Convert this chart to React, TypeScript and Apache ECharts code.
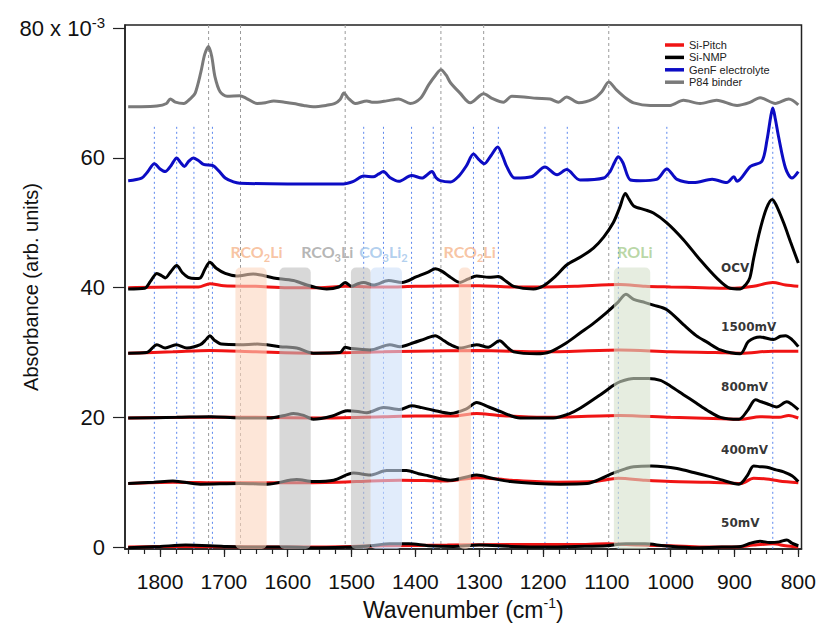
import React, { useEffect, useRef } from 'react';
import * as echarts from 'echarts';

const FONT = '"Liberation Sans", Arial, sans-serif';
const BOLD_FONT = '"DejaVu Sans", sans-serif';
const LABEL_FONT = 'Lato, "Open Sans", sans-serif';

// ---------- axes ----------
const xMajorTicks = [800, 900, 1000, 1100, 1200, 1300, 1400, 1500, 1600, 1700, 1800];
const yTicks = [0, 20, 40, 60, 80];
const xMinorTicks: number[] = [];
for (let v = 800; v <= 1850; v += 25) xMinorTicks.push(v);

// ---------- spectra (wavenumber, absorbance x10^-3) ----------
const p84Binder: [number, number][] = [
  [1850, 67.9], [1830, 67.9], [1805, 68.0], [1790, 68.4], [1784, 69.1], [1776, 68.6], [1763, 68.4],
  [1752, 69.2], [1745, 70.0], [1736, 73.3], [1730, 76.0], [1724, 77.2], [1719, 75.6], [1714, 72.5],
  [1706, 70.2], [1695, 69.5], [1675, 69.6], [1665, 69.2], [1648, 68.4], [1635, 68.5], [1622, 68.8],
  [1605, 68.6], [1591, 68.4], [1575, 68.1], [1560, 67.9], [1540, 68.1], [1526, 68.4], [1518, 69.0],
  [1512, 70.0], [1505, 69.2], [1494, 68.4], [1476, 68.8], [1468, 68.6], [1460, 68.6], [1445, 68.8],
  [1426, 69.1], [1408, 68.4], [1392, 69.2], [1379, 71.3], [1368, 72.8], [1360, 73.6], [1352, 72.8],
  [1345, 71.6], [1330, 70.0], [1314, 68.5], [1293, 69.9], [1280, 69.2], [1262, 68.6], [1249, 69.5],
  [1230, 69.4], [1210, 69.2], [1189, 69.1], [1176, 68.6], [1163, 69.4], [1144, 68.5], [1121, 69.1],
  [1108, 70.2], [1097, 71.7], [1085, 70.5], [1070, 69.2], [1058, 68.5], [1032, 68.1], [1001, 68.1],
  [980, 68.9], [954, 68.4], [928, 68.9], [896, 68.1], [875, 68.6], [860, 69.3], [836, 68.4],
  [815, 69.1], [800, 68.2],
];

const genfElectrolyte: [number, number][] = [
  [1850, 56.5], [1829, 56.9], [1820, 57.8], [1809, 59.1], [1800, 58.3], [1792, 57.9], [1783, 58.8],
  [1774, 60.0], [1768, 59.3], [1762, 58.7], [1755, 59.5], [1748, 60.0], [1740, 59.6], [1732, 59.0],
  [1717, 58.8], [1708, 58.0], [1698, 56.9], [1685, 56.3], [1675, 56.1], [1600, 56.0], [1513, 56.0],
  [1497, 56.4], [1481, 57.2], [1466, 57.1], [1458, 57.5], [1450, 57.9], [1440, 57.0], [1426, 56.4],
  [1406, 57.3], [1390, 56.9], [1374, 57.9], [1368, 57.0], [1361, 56.5], [1345, 56.3], [1332, 57.2],
  [1320, 58.8], [1309, 60.6], [1300, 59.7], [1292, 59.1], [1282, 60.3], [1271, 61.7], [1263, 60.2],
  [1257, 58.7], [1244, 56.9], [1218, 57.1], [1197, 58.6], [1178, 57.4], [1163, 58.2], [1142, 56.6],
  [1105, 56.9], [1095, 57.9], [1088, 59.3], [1082, 60.2], [1075, 59.3], [1063, 56.6], [1048, 56.5],
  [1022, 56.7], [1006, 58.3], [990, 56.7], [964, 56.2], [935, 56.7], [912, 56.2], [901, 57.1],
  [896, 56.4], [875, 58.7], [857, 59.5], [849, 62.8], [843, 66.5], [840, 67.7], [836, 66.0],
  [831, 63.3], [820, 58.4], [810, 56.9], [800, 57.9],
];

const nmpOCV: [number, number][] = [
  [1850, 39.8], [1824, 39.9], [1815, 41.0], [1805, 42.2], [1797, 41.8], [1792, 41.5], [1783, 42.5],
  [1774, 43.4], [1765, 42.3], [1756, 41.6], [1745, 41.4], [1737, 41.5], [1730, 42.8], [1722, 43.9],
  [1712, 43.0], [1698, 42.2], [1680, 41.8], [1654, 42.1], [1622, 41.5], [1591, 41.1], [1570, 40.4],
  [1555, 40.0], [1539, 39.8], [1520, 40.1], [1510, 40.8], [1500, 40.2], [1490, 40.6], [1481, 40.8],
  [1466, 40.4], [1442, 41.1], [1421, 40.8], [1398, 41.7], [1380, 42.4], [1369, 42.9], [1358, 42.5],
  [1345, 41.6], [1330, 40.8], [1318, 41.3], [1304, 41.8], [1285, 41.6], [1270, 41.7], [1258, 41.0],
  [1246, 40.2], [1215, 39.8], [1199, 40.3], [1180, 41.8], [1163, 43.5], [1140, 44.8], [1121, 46.1],
  [1105, 47.8], [1090, 50.0], [1080, 52.3], [1071, 54.5], [1065, 53.6], [1058, 52.6], [1040, 52.0],
  [1027, 51.5], [1006, 50.0], [980, 47.4], [954, 44.3], [928, 41.5], [907, 39.9], [891, 39.8],
  [882, 40.5], [876, 41.5], [870, 44.5], [860, 48.9], [850, 52.2], [841, 53.6], [835, 52.8],
  [823, 50.0], [812, 47.0], [800, 43.8],
];

const nmp1500: [number, number][] = [
  [1850, 29.9], [1821, 30.0], [1805, 31.2], [1792, 30.7], [1775, 31.2], [1758, 30.7], [1737, 31.2],
  [1728, 32.0], [1722, 32.6], [1715, 31.9], [1704, 31.3], [1675, 31.2], [1648, 31.3], [1612, 30.9],
  [1586, 30.7], [1560, 29.9], [1518, 30.0], [1510, 30.8], [1500, 30.6], [1471, 30.4], [1440, 31.2],
  [1424, 30.9], [1403, 31.5], [1385, 32.1], [1369, 32.6], [1355, 31.8], [1345, 31.2], [1330, 30.7],
  [1304, 31.2], [1286, 30.8], [1268, 31.8], [1257, 30.9], [1246, 30.1], [1210, 29.8], [1189, 30.1],
  [1163, 31.5], [1142, 33.0], [1121, 34.5], [1100, 36.2], [1084, 37.6], [1070, 39.0], [1058, 38.2],
  [1040, 37.7], [1027, 37.3], [1006, 36.6], [980, 34.3], [960, 32.6], [943, 31.6], [922, 30.4],
  [891, 29.8], [878, 31.7], [860, 32.4], [839, 32.0], [828, 32.5], [820, 32.6], [810, 32.0],
  [800, 30.9],
];

const nmp800: [number, number][] = [
  [1850, 19.9], [1774, 20.0], [1720, 20.1], [1675, 19.9], [1628, 19.9], [1605, 20.3], [1591, 20.6],
  [1575, 20.3], [1560, 19.7], [1530, 20.2], [1507, 21.0], [1490, 20.9], [1476, 20.7], [1450, 21.5],
  [1424, 21.2], [1406, 21.8], [1390, 21.5], [1372, 21.1], [1345, 20.6], [1320, 21.3], [1304, 22.3],
  [1285, 21.6], [1267, 20.9], [1236, 19.9], [1184, 19.9], [1160, 20.5], [1142, 21.4], [1110, 23.5],
  [1090, 24.9], [1079, 25.5], [1058, 26.0], [1035, 26.0], [1016, 25.7], [1000, 24.8], [980, 23.5],
  [960, 22.2], [943, 21.1], [922, 20.0], [893, 19.7], [880, 21.0], [867, 22.7], [858, 22.4],
  [849, 22.1], [834, 21.6], [818, 22.4], [810, 22.0], [800, 21.2],
];

const nmp400: [number, number][] = [
  [1850, 9.8], [1810, 10.0], [1780, 10.2], [1737, 9.7], [1675, 9.8], [1632, 9.7], [1586, 10.4],
  [1560, 10.1], [1528, 10.3], [1497, 11.4], [1471, 11.1], [1445, 11.8], [1424, 11.8], [1414, 11.8],
  [1395, 11.3], [1380, 11.0], [1345, 10.3], [1320, 10.8], [1304, 11.1], [1280, 10.6], [1251, 10.1],
  [1210, 9.8], [1173, 9.7], [1131, 9.8], [1110, 10.5], [1090, 11.4], [1070, 12.1], [1058, 12.4],
  [1030, 12.5], [1011, 12.4], [990, 12.1], [964, 11.5], [940, 10.9], [922, 10.4], [893, 9.7],
  [880, 11.0], [870, 12.5], [860, 12.4], [849, 12.3], [835, 11.9], [823, 11.6], [810, 11.0],
  [800, 10.1],
];

const nmp50: [number, number][] = [
  [1850, -0.1], [1800, 0.1], [1760, 0.3], [1700, 0.1], [1650, 0.0], [1600, 0.0], [1550, -0.1],
  [1500, 0.0], [1470, 0.2], [1440, 0.5], [1410, 0.5], [1380, 0.2], [1340, 0.1], [1300, 0.3],
  [1250, 0.1], [1200, 0.0], [1150, 0.1], [1100, 0.2], [1070, 0.5], [1040, 0.5], [1010, 0.2],
  [960, -0.1], [920, 0.0], [890, 0.1], [875, 0.6], [860, 0.9], [845, 0.7], [830, 0.8],
  [818, 1.1], [810, 0.6], [800, 0.2],
];

const pitchOCV: [number, number][] = [
  [1850, 40.0], [1780, 40.1], [1740, 40.1], [1722, 40.6], [1700, 40.3], [1650, 40.2], [1600, 40.0],
  [1550, 40.0], [1510, 40.2], [1450, 40.1], [1400, 40.2], [1330, 40.3], [1300, 40.3], [1250, 40.1],
  [1200, 40.1], [1150, 40.2], [1080, 40.5], [1040, 40.2], [1000, 40.1], [950, 40.0], [900, 39.9],
  [870, 40.2], [840, 40.8], [820, 40.4], [800, 40.2],
];
const pitch1500: [number, number][] = [
  [1850, 29.9], [1780, 30.1], [1722, 30.3], [1650, 30.1], [1560, 29.9], [1500, 30.0], [1450, 30.1],
  [1400, 30.2], [1300, 30.3], [1200, 30.1], [1080, 30.4], [1000, 30.1], [930, 30.0], [890, 29.9],
  [840, 30.2], [800, 30.2],
];
const pitch800: [number, number][] = [
  [1850, 19.9], [1750, 20.0], [1650, 20.0], [1550, 19.9], [1450, 20.1], [1400, 20.2], [1340, 20.2],
  [1304, 20.6], [1270, 20.3], [1200, 20.0], [1080, 20.3], [1000, 20.0], [920, 19.8], [890, 19.7],
  [860, 20.1], [830, 20.0], [815, 20.3], [800, 19.9],
];
const pitch400: [number, number][] = [
  [1850, 9.8], [1780, 10.0], [1700, 9.9], [1600, 9.9], [1520, 10.0], [1470, 10.2], [1424, 10.3],
  [1350, 10.2], [1304, 10.7], [1250, 10.3], [1180, 10.0], [1120, 10.1], [1082, 10.6], [1040, 10.3],
  [1000, 10.1], [940, 10.0], [890, 9.8], [870, 10.6], [850, 10.5], [830, 10.2], [800, 9.9],
];
const pitch50: [number, number][] = [
  [1850, 0.0], [1750, 0.1], [1650, 0.0], [1550, 0.0], [1450, 0.2], [1350, 0.3], [1250, 0.4],
  [1150, 0.4], [1100, 0.5], [1050, 0.3], [1000, 0.2], [950, 0.0], [900, 0.0], [870, 0.3],
  [840, 0.5], [820, 0.2], [800, 0.0],
];

// ---------- reference lines ----------
const electrolyteLines = [1809, 1774, 1747, 1718, 1481, 1450, 1406, 1372, 1309, 1270, 1197, 1162, 1082, 1006, 840];
const binderLines = [1724, 1674, 1510, 1360, 1293, 1097];
const electrolyteLineTop = 64.8;

// ---------- assignment bands ----------
const bandFrom = [1682, 1613, 1501, 1470, 1332, 1089];
const bandTo = [1633, 1564, 1470, 1421, 1313, 1032];
const bandTop = 43.1;
const bandNames = ['RCO2Li', 'RCO3Li', 'RCO3Li', 'CO3Li2', 'RCO2Li', 'ROLi'];

const bandLabelText = ['RCO_2Li', 'RCO_3Li', 'CO_3Li_2', 'RCO_2Li', 'ROLi'];
const bandLabelWn = [1649, 1538, 1450, 1315, 1056];
const bandLabelY = [45.5, 45.5, 45.5, 45.5, 45.5];

// ---------- trace annotations ----------
const traceLabels = ['OCV', '1500mV', '800mV', '400mV', '50mV'];
const traceLabelWn = [921, 921, 921, 921, 921];
const traceLabelY = [43.0, 33.9, 24.7, 15.0, 3.7];

// ---------- styles ----------
const RED = '#f01414';
const BLACK = '#000000';
const BLUE = '#0c0cc4';
const GRAY = '#7a7a7a';
const bandFill: Record<string, string> = {
  RCO2Li: 'rgba(252,214,190,0.6)',
  RCO3Li: 'rgba(190,190,190,0.6)',
  CO3Li2: 'rgba(205,224,248,0.6)',
  ROLi: 'rgba(214,225,204,0.6)',
};
const bandLabelColor = ['#f6b58c', '#a2a2a2', '#9ec3ea', '#f6b58c', '#a7cd8f'];

const X_MIN = 795;
const X_MAX = 1855;
const Y_MIN = -0.3;
const Y_MAX = 80.5;

function lineSeries(name: string, color: string, data: [number, number][], z: number) {
  return {
    type: 'line',
    name,
    data,
    symbol: 'none',
    showSymbol: false,
    smooth: 0.3,
    lineStyle: { color, width: 3 },
    itemStyle: { color },
    z,
    silent: true,
  };
}

function richBand(t: string) {
  return '{a|' + t.replace(/_(\d)/g, '}{s|$1}{a|') + '}';
}

export default function App() {
  const ref = useRef<HTMLDivElement>(null);

  useEffect(() => {
    if (!ref.current) return;
    const chart = echarts.init(ref.current, null, { renderer: 'svg' });

    const refLineData = [
      ...electrolyteLines.map((w) => ({ value: [w, electrolyteLineTop], kind: 0 })),
      ...binderLines.map((w) => ({ value: [w, Y_MAX], kind: 1 })),
    ];
    const refKinds = refLineData.map((d) => d.kind);

    const option: any = {
      animation: false,
      backgroundColor: '#ffffff',
      grid: {
        left: 125,
        right: 17.5,
        top: 25,
        bottom: 80,
        show: true,
        borderColor: '#222',
        borderWidth: 1.5,
        backgroundColor: 'transparent',
        containLabel: false,
        outerBoundsMode: 'none',
      },
      legend: {
        data: ['Si-Pitch', 'Si-NMP', 'GenF electrolyte', 'P84 binder'],
        orient: 'vertical',
        left: 665,
        top: 39,
        padding: 0,
        icon: 'rect',
        itemWidth: 19,
        itemHeight: 3.5,
        itemGap: 0.4,
        selectedMode: false,
        textStyle: { fontFamily: FONT, fontSize: 11, color: '#222', lineHeight: 12 },
      },
      xAxis: [
        {
          type: 'value',
          inverse: true,
          min: X_MIN,
          max: X_MAX,
          position: 'bottom',
          axisLine: { show: true, onZero: false, lineStyle: { color: '#222', width: 1.5 } },
          axisTick: { show: true, customValues: xMinorTicks, length: 5, lineStyle: { color: '#222', width: 1.2 } },
          axisLabel: {
            customValues: xMajorTicks,
            formatter: (v: number) => String(v),
            fontFamily: FONT,
            fontSize: 21,
            color: '#111',
            margin: 22,
          },
          splitLine: { show: false },
          name: '{n|Wavenumber (cm}{sup|-1}{n|)}',
          nameLocation: 'middle',
          nameGap: 47,
          nameMoveOverlap: false,
          nameTextStyle: {
            rich: {
              n: { fontFamily: FONT, fontSize: 23, color: '#111', lineHeight: 28, verticalAlign: 'middle' },
              sup: { fontFamily: FONT, fontSize: 14, color: '#111', lineHeight: 14, verticalAlign: 'top' },
            },
          },
        },
        {
          type: 'value',
          inverse: true,
          min: X_MIN,
          max: X_MAX,
          position: 'bottom',
          axisLine: { show: false, onZero: false },
          axisTick: { show: true, customValues: xMajorTicks, length: 8, lineStyle: { color: '#222', width: 1.2 } },
          axisLabel: { show: false },
          splitLine: { show: false },
        },
      ],
      yAxis: {
        type: 'value',
        min: Y_MIN,
        max: Y_MAX,
        axisLine: { show: true, onZero: false, lineStyle: { color: '#222', width: 1.5 } },
        axisTick: { show: true, customValues: yTicks, length: 12, lineStyle: { color: '#222', width: 1.2 } },
        axisLabel: {
          customValues: yTicks,
          margin: 20,
          formatter: (v: number) => (v === 80 ? '{n|80 x 10}{sup|-3}' : '{n|' + v + '}'),
          rich: {
            n: { fontFamily: FONT, fontSize: 22, color: '#111', lineHeight: 26, verticalAlign: 'middle' },
            sup: { fontFamily: FONT, fontSize: 15, color: '#111', lineHeight: 15, verticalAlign: 'top' },
          },
        },
        splitLine: { show: false },
        name: 'Absorbance (arb. units)',
        nameLocation: 'middle',
        nameGap: 84,
        nameMoveOverlap: false,
        nameTextStyle: { fontFamily: FONT, fontSize: 20, color: '#111' },
      },
      series: [
        {
          type: 'custom',
          name: 'refLines',
          z: 1,
          silent: true,
          data: refLineData.map((d) => d.value),
          renderItem: (params: any, api: any) => {
            const w = api.value(0);
            const top = api.value(1);
            const p1 = api.coord([w, top]);
            const p2 = api.coord([w, Y_MIN]);
            const kind = refKinds[params.dataIndex];
            return {
              type: 'line',
              shape: { x1: p1[0], y1: p1[1], x2: p2[0], y2: p2[1] },
              style: {
                stroke: kind === 0 ? '#5a86ee' : '#9a9a9a',
                lineWidth: 1,
                lineDash: kind === 0 ? [2, 3] : [3, 3],
              },
            };
          },
        },
        lineSeries('P84 binder', GRAY, p84Binder, 2),
        lineSeries('GenF electrolyte', BLUE, genfElectrolyte, 2),
        lineSeries('Si-Pitch', RED, pitchOCV, 2),
        lineSeries('Si-Pitch', RED, pitch1500, 2),
        lineSeries('Si-Pitch', RED, pitch800, 2),
        lineSeries('Si-Pitch', RED, pitch400, 2),
        lineSeries('Si-Pitch', RED, pitch50, 2),
        lineSeries('Si-NMP', BLACK, nmpOCV, 3),
        lineSeries('Si-NMP', BLACK, nmp1500, 3),
        lineSeries('Si-NMP', BLACK, nmp800, 3),
        lineSeries('Si-NMP', BLACK, nmp400, 3),
        lineSeries('Si-NMP', BLACK, nmp50, 3),
        {
          type: 'custom',
          name: 'bands',
          z: 5,
          silent: true,
          data: bandFrom.map((f, i) => [f, bandTo[i], bandTop]),
          renderItem: (params: any, api: any) => {
            const p1 = api.coord([api.value(0), api.value(2)]);
            const p2 = api.coord([api.value(1), Y_MIN]);
            return {
              type: 'rect',
              shape: {
                x: Math.min(p1[0], p2[0]),
                y: p1[1],
                width: Math.abs(p2[0] - p1[0]),
                height: p2[1] - p1[1],
                r: 5,
              },
              style: { fill: bandFill[bandNames[params.dataIndex]] },
            };
          },
        },
        {
          type: 'scatter',
          name: 'bandLabels',
          z: 6,
          silent: true,
          symbolSize: 1,
          itemStyle: { color: 'transparent' },
          data: bandLabelText.map((t, i) => ({
            value: [bandLabelWn[i], bandLabelY[i]],
            label: {
              show: true,
              position: 'inside',
              align: 'center',
              verticalAlign: 'middle',
              formatter: richBand(t),
              rich: {
                a: { fontFamily: LABEL_FONT, fontWeight: 'bold', fontSize: 16, color: bandLabelColor[i], lineHeight: 22, verticalAlign: 'middle' },
                s: { fontFamily: LABEL_FONT, fontWeight: 'bold', fontSize: 11, color: bandLabelColor[i], lineHeight: 11, verticalAlign: 'bottom' },
              },
            },
          })),
        },
        {
          type: 'scatter',
          name: 'traceLabels',
          z: 6,
          silent: true,
          symbolSize: 1,
          itemStyle: { color: 'transparent' },
          data: traceLabels.map((t, i) => ({
            value: [traceLabelWn[i], traceLabelY[i]],
            name: t,
          })),
          label: {
            show: true,
            position: 'inside',
            align: 'left',
            verticalAlign: 'middle',
            formatter: (p: any) => p.name,
            fontFamily: BOLD_FONT,
            fontWeight: 'bold',
            fontSize: 12,
            color: '#000',
          },
        },
      ],
    };

    chart.setOption(option);
    return () => chart.dispose();
  }, []);

  return (
    <div
      ref={ref}
      style={{ position: 'fixed', left: 0, top: 0, width: 819, height: 629, background: '#fff' }}
    />
  );
}
